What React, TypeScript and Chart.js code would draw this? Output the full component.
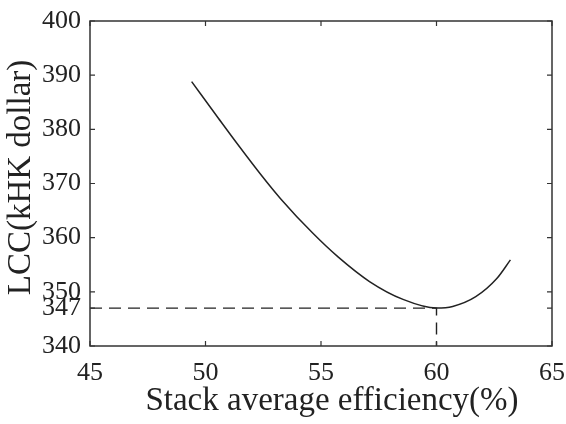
import React, { useEffect, useRef } from "react";
import { Chart, registerables } from "chart.js";

Chart.register(...registerables);

const efficiency = [49.4, 50.55, 51.4, 52.35, 53.25, 54.65, 55.75, 57.1, 58.55, 60.0, 60.7, 61.7, 62.6, 63.2];
const lcc = [388.8, 382.1, 377.2, 371.9, 367.2, 360.8, 356.4, 351.9, 348.6, 347.0, 347.3, 349.1, 352.4, 355.9];
const optimumEfficiency = 60;
const optimumLcc = 347;
const xMin = 45;
const xMax = 65;
const yMin = 340;
const yMax = 400;
const xTicks = [45, 50, 55, 60, 65];
const yTicks = [340, 347, 350, 360, 370, 380, 390, 400];
const xTitle = "Stack average efficiency(%)";
const yTitle = "LCC(kHK dollar)";

const FONT = '"Liberation Serif", "Times New Roman", serif';
const INK = "#222";

const boxPlugin = {
  id: "boxTicks",
  afterDatasetsDraw(chart: any) {
    const { ctx, chartArea, scales } = chart;
    const { left, right, top, bottom } = chartArea;
    ctx.save();
    ctx.strokeStyle = "#333";
    ctx.lineWidth = 1.5;
    ctx.strokeRect(left, top, right - left, bottom - top);
    ctx.lineWidth = 1.2;
    const len = 5;
    ctx.beginPath();
    xTicks.forEach((v) => {
      const px = scales.x.getPixelForValue(v);
      ctx.moveTo(px, bottom);
      ctx.lineTo(px, bottom - len);
      ctx.moveTo(px, top);
      ctx.lineTo(px, top + len);
    });
    yTicks.forEach((v) => {
      const py = scales.y.getPixelForValue(v);
      ctx.moveTo(left, py);
      ctx.lineTo(left + len, py);
      ctx.moveTo(right, py);
      ctx.lineTo(right - len, py);
    });
    ctx.stroke();

    // axis titles
    ctx.fillStyle = INK;
    ctx.font = `33px ${FONT}`;
    ctx.textAlign = "center";
    ctx.textBaseline = "alphabetic";
    ctx.fillText(xTitle, (left + right) / 2 + 11, 410);
    ctx.save();
    ctx.translate(30, (top + bottom) / 2 - 6);
    ctx.rotate(-Math.PI / 2);
    ctx.fillText(yTitle, 0, 0);
    ctx.restore();
    ctx.restore();
  },
};

export default function App() {
  const ref = useRef<HTMLCanvasElement | null>(null);
  useEffect(() => {
    if (!ref.current) return;
    const curve = efficiency.map((x, i) => ({ x, y: lcc[i] }));
    const guide = [
      { x: xMin, y: optimumLcc },
      { x: optimumEfficiency, y: optimumLcc },
      { x: optimumEfficiency, y: yMin },
    ];
    const chart = new Chart(ref.current, {
      type: "scatter",
      data: {
        datasets: [
          {
            data: curve,
            showLine: true,
            borderColor: INK,
            borderWidth: 1.5,
            pointRadius: 0,
            cubicInterpolationMode: "monotone",
          },
          {
            data: guide,
            showLine: true,
            borderColor: INK,
            borderWidth: 1.4,
            borderDash: [12, 7],
            pointRadius: 0,
            tension: 0,
          },
        ],
      },
      options: {
        animation: false,
        responsive: false,
        maintainAspectRatio: false,
        layout: { padding: { top: 0, right: 0, left: 0, bottom: 0 } },
        plugins: { legend: { display: false }, tooltip: { enabled: false } },
        scales: {
          x: {
            type: "linear",
            min: xMin,
            max: xMax,
            grid: { display: false, drawTicks: false },
            border: { display: false },
            afterBuildTicks: (s: any) => {
              s.ticks = xTicks.map((v) => ({ value: v }));
            },
            afterFit: (s: any) => {
              s.height = 78;
              s.paddingLeft = 0;
              s.paddingRight = 14;
            },
            ticks: {
              color: INK,
              font: { family: FONT, size: 26 },
              padding: 12,
              maxRotation: 0,
              callback: (v: any) => String(v),
            },
            title: { display: false },
          },
          y: {
            type: "linear",
            min: yMin,
            max: yMax,
            grid: { display: false, drawTicks: false },
            border: { display: false },
            afterBuildTicks: (s: any) => {
              s.ticks = yTicks.map((v) => ({ value: v }));
            },
            afterFit: (s: any) => {
              s.width = 90;
              s.paddingTop = 21;
              s.paddingBottom = 0;
            },
            ticks: {
              color: INK,
              font: { family: FONT, size: 26 },
              padding: 9,
              autoSkip: false,
              callback: (v: any) => String(v),
            },
            title: { display: false },
          },
        },
      },
      plugins: [boxPlugin],
    } as any);
    return () => chart.destroy();
  }, []);
  return (
    <div style={{ position: "fixed", left: 0, top: 0, width: 566, height: 424, background: "#fff" }}>
      <canvas ref={ref} width={566} height={424} style={{ width: 566, height: 424, display: "block" }} />
    </div>
  );
}
